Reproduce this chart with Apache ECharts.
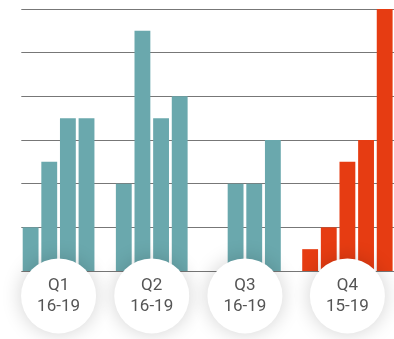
<!DOCTYPE html>
<html>
<head>
<meta charset="utf-8">
<script src="https://cdn.jsdelivr.net/npm/echarts@6/dist/echarts.min.js"></script>
<style>
  html, body { margin: 0; padding: 0; background: #fff; }
  #chart { width: 394px; height: 339px; }
</style>
</head>
<body>
<div id="chart"></div>
<script>
// Quarters, their year ranges and yearly values
const quarters = ["Q1", "Q2", "Q3", "Q4"];
const yearRanges = ["16-19", "16-19", "16-19", "15-19"];
const q1Values = [1, 2.5, 3.5, 3.5];
const q2Values = [2, 5.5, 3.5, 4];
const q3Values = [0, 2, 2, 3];
const q4Values = [0.5, 1, 2.5, 3, 6];
const yTicks = [0, 1, 2, 3, 4, 5, 6];

const TEAL = "#6aa8ad";
const ORANGE = "#e63c12";

// Build flat category list with an empty slot between quarters
const groups = [q1Values, q2Values, q3Values, q4Values];
const categories = [];
const barData = [];
const labelPoints = [];
groups.forEach((vals, g) => {
    const start = categories.length;
    vals.forEach((v, i) => {
        categories.push(quarters[g] + " " + i);
        barData.push({
            value: v,
            itemStyle: { color: g === 3 ? ORANGE : TEAL }
        });
    });
    labelPoints.push({
        name: quarters[g] + "\n" + yearRanges[g],
        value: [start + vals.length / 2, -0.57]
    });
    if (g < groups.length - 1) {
        categories.push("gap " + g);
        barData.push(null);
    }
});

const chart = echarts.init(document.getElementById("chart"));
chart.setOption({
    animation: false,
    grid: { left: 21.3, width: 376, top: 9, height: 262 },
    xAxis: [
        {
            type: "category",
            data: categories,
            axisLine: { show: false },
            axisTick: { show: false },
            axisLabel: { show: false }
        },
        {
            type: "value",
            min: 0,
            max: categories.length,
            show: false
        }
    ],
    yAxis: {
        type: "value",
        min: yTicks[0],
        max: yTicks[yTicks.length - 1],
        interval: 1,
        axisLine: { show: false },
        axisTick: { show: false },
        axisLabel: { show: false },
        splitLine: { lineStyle: { color: "#777", width: 1 } }
    },
    series: [
        {
            type: "bar",
            data: barData,
            barCategoryGap: "15%",
            xAxisIndex: 0
        },
        {
            type: "scatter",
            xAxisIndex: 1,
            clip: false,
            data: labelPoints,
            symbol: "circle",
            symbolSize: 75,
            z: 5,
            itemStyle: {
                color: "#fff",
                opacity: 1,
                shadowBlur: 20,
                shadowColor: "rgba(0,0,0,0.18)"
            },
            label: {
                show: true,
                position: "inside",
                formatter: p => p.name,
                color: "#555",
                fontFamily: "Roboto",
                fontSize: 17,
                lineHeight: 21
            }
        }
    ]
});
</script>
</body>
</html>
